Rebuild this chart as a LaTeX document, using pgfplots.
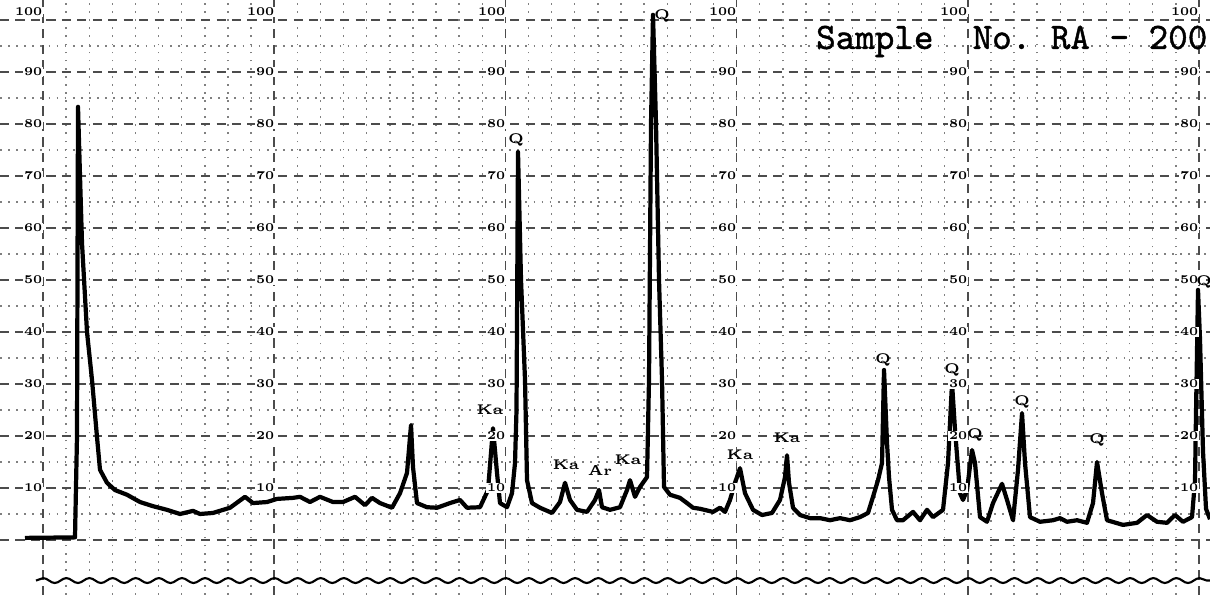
\documentclass[border=0pt]{standalone}
\usepackage{fontspec}
\usepackage{pgfplots}
\pgfplotsset{compat=1.18}
\usetikzlibrary{decorations.pathmorphing}
\newfontfamily\typew[FakeBold=1.2]{Latin Modern Mono}

% recorder trace, x = chart position, y = percent of full scale
\pgfplotstableread{
x y
25 0.4
75 0.5
77 20
78 83.3
80 70
82 57.1
87 40
92 30.8
97 19.8
100 13.5
107 11.0
115 9.6
127 8.7
140 7.3
153 6.5
167 5.8
180 5.0
193 5.6
200 5.0
213 5.2
230 6.2
245 8.3
253 7.1
267 7.3
277 7.9
293 8.1
300 8.3
310 7.3
320 8.3
333 7.3
343 7.3
355 8.3
365 6.7
372 8.1
380 7.1
392 6.2
400 9.0
407 12.9
411 22.1
413 14.0
417 7.1
427 6.3
437 6.2
450 7.1
460 7.7
467 6.2
480 6.3
488 9.6
493 21.5
497 12.9
500 7.1
507 6.3
512 9.0
515 14.8
516.5 25
518 74.6
521 50
525 30.8
527 11.5
532 7.1
540 6.2
552 5.2
560 7.3
565 11.0
570 7.7
577 5.8
587 5.4
595 7.7
599 9.6
602 6.3
610 5.8
620 6.3
627 9.6
630 11.5
635 8.3
640 10.2
647 12.1
649 30.8
651 80
653 101
656 80
659 50
662 30.8
664 10.2
670 8.7
680 8.1
687 7.1
693 6.2
700 6.0
713 5.4
720 6.2
725 5.4
730 7.7
735 11.0
740 13.8
745 9.0
753 5.8
762 4.8
772 5.2
780 7.7
785 12.1
787 16.3
789 11.0
793 6.2
800 4.8
810 4.2
820 4.2
830 3.8
840 4.2
850 3.8
860 4.4
868 5.2
873 8.3
878 11.5
882 14.8
884 32.7
887 18.7
889 12.1
892 5.8
897 3.8
903 3.8
913 5.4
920 3.8
927 5.8
933 4.4
943 5.8
948 14.8
952 30.2
955 21.2
960 9.0
963 7.7
967 9.6
972 17.3
975 14.8
980 4.4
987 3.5
993 7.1
1002 10.8
1007 7.7
1013 3.8
1018 13.5
1022 24.4
1025 14.8
1030 4.4
1040 3.5
1053 3.8
1060 4.2
1067 3.5
1077 3.8
1087 3.3
1093 7.1
1097 15.0
1102 9.0
1107 3.8
1123 2.9
1137 3.3
1147 4.8
1157 3.5
1167 3.3
1175 4.8
1183 3.5
1192 4.4
1195 11.5
1196 24.4
1198 48.1
1200 38.5
1203 17
1206 6
1210 4
}\trace

\begin{document}
\begin{tikzpicture}
\begin{axis}[
    width=12.1cm, height=5.95cm,
    scale only axis,
    xmin=0, xmax=1210,
    ymin=-10.58, ymax=103.85,
    axis line style={draw=none},
    xtick={43,274.2,505.4,736.6,967.8,1199},
    minor x tick num=9,
    ytick={0,10,...,100},
    minor y tick num=1,
    xticklabels={}, yticklabels={},
    major tick length=0pt, minor tick length=0pt,
    grid=both,
    major grid style={black!70, line width=0.45pt, dash pattern=on 2.6pt off 1.8pt},
    minor grid style={black!50, line width=0.4pt, dash pattern=on 0.5pt off 1.8pt},
    clip=false
]
\addplot[black, line width=1.2pt, line join=round] table[x=x, y=y] {\trace};
\addplot[black, line width=0.6pt, decorate,
    decoration={snake, segment length=6.58pt, amplitude=0.7pt}]
    coordinates {(36,-7.8) (1210,-7.8)};
\end{axis}

% labels placed in image pixel coordinates
\begin{scope}[x=0.1mm, y=-0.1mm, shift={(0,5.95cm)},
    lab/.style={font=\fontsize{3.4}{3.4}\selectfont\bfseries, inner sep=0.3pt, fill=white, anchor=east}]
\foreach \c in {43,275,506,737,968,1199}{
  \foreach \v/\p in {10/488,20/436,30/384,40/332,50/280,60/228,70/176,80/124,90/72}{
    \node[lab] at (\c+1,\p) {\v};
  }
  \node[lab] at (\c+1,12) {100};
}
\node[anchor=north east, inner sep=0pt, font=\fontsize{10.6}{12}\typew] at (1208,25) {Sample\ \ No.\ RA - 200};
\begin{scope}[font=\fontsize{4}{4}\selectfont\bfseries, inner sep=0pt]
\node at (516,140) {Q};
\node at (662,16) {Q};
\node at (883,360) {Q};
\node at (952,370) {Q};
\node at (1022,402) {Q};
\node at (1097,440) {Q};
\node at (1204,282) {Q};
\node at (490,410) {Ka};
\node at (566,465) {Ka};
\node at (600,470) {Ar};
\node at (628,460) {Ka};
\node at (740,455) {Ka};
\node at (787,438) {Ka};
\node at (975,435) {Q};
\end{scope}
\end{scope}
\pgfresetboundingbox
\useasboundingbox (0,0) rectangle (12.1cm,5.95cm);
\end{tikzpicture}
\end{document}
